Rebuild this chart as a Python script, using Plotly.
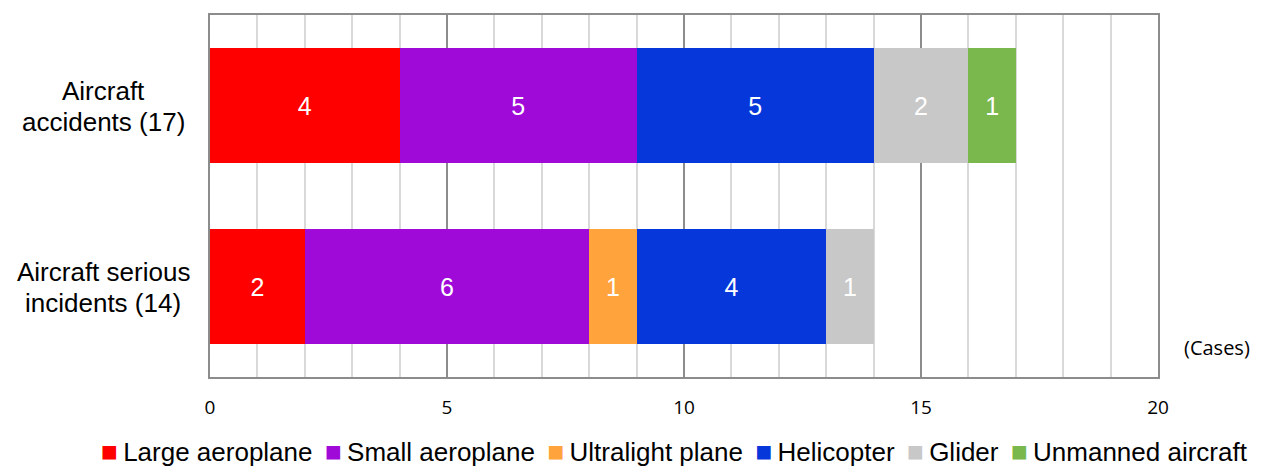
import plotly.graph_objects as go

# Categories (top to bottom) and their totals
categories = ["Aircraft accidents", "Aircraft serious incidents"]
totals = [17, 14]

# Aircraft types, their colours and case counts per category
series_names = ["Large aeroplane", "Small aeroplane", "Ultralight plane",
                "Helicopter", "Glider", "Unmanned aircraft"]
series_colors = ["#FF0000", "#A00AD8", "#FFA33D", "#0537DA", "#C8C8C8", "#7AB84E"]
large_aeroplane = [4, 2]
small_aeroplane = [5, 6]
ultralight_plane = [0, 1]
helicopter = [5, 4]
glider = [2, 1]
unmanned_aircraft = [1, 0]
series_values = [large_aeroplane, small_aeroplane, ultralight_plane,
                 helicopter, glider, unmanned_aircraft]

x_tick_values = [0, 5, 10, 15, 20]
category_lines = [["Aircraft", "accidents ({})".format(totals[0])],
                  ["Aircraft serious", "incidents ({})".format(totals[1])]]

LABEL_FONT = "Liberation Sans, Arial, sans-serif"
AXIS_FONT = "Open Sans, Carlito, sans-serif"

fig = go.Figure()
for name, color, vals in zip(series_names, series_colors, series_values):
    fig.add_trace(go.Bar(
        y=categories, x=vals, name=name, orientation="h",
        marker=dict(color=color, line=dict(width=0)),
        text=[str(v) if v else "" for v in vals],
        textposition="inside", insidetextanchor="middle",
        textfont=dict(family=LABEL_FONT, size=25, color="white"),
        showlegend=False, hoverinfo="x+name",
    ))

fig.update_layout(
    barmode="stack", bargap=0.36,
    width=1263, height=467,
    margin=dict(l=210, r=105, t=15, b=90),
    plot_bgcolor="white", paper_bgcolor="white",
    uniformtext=dict(mode="show", minsize=10),
)

fig.update_xaxes(
    range=[0, 20], tickvals=x_tick_values, showgrid=True,
    gridcolor="#8C8C8C", gridwidth=1.5,
    minor=dict(dtick=1, showgrid=True, gridcolor="#D9D9D9", gridwidth=1.5),
    showline=True, linecolor="#8C8C8C", linewidth=2, mirror=True,
    zeroline=False, ticks="",
    tickfont=dict(family=AXIS_FONT, size=19, color="black"),
    ticklabelstandoff=12,
)
fig.update_yaxes(
    categoryorder="array", categoryarray=categories[::-1],
    showticklabels=False, showgrid=False, zeroline=False,
    showline=True, linecolor="#8C8C8C", linewidth=2, mirror=True,
)

# Category labels: two centred lines to the left of each bar
LABEL_CENTRE_X = -107  # pixels left of the plot's left edge
for cat, lines in zip(categories, category_lines):
    for line, dy in zip(lines, [15, -16]):
        fig.add_annotation(
            x=0, xref="paper", y=cat, yref="y", xanchor="center",
            xshift=LABEL_CENTRE_X, yshift=dy,
            text=line, showarrow=False,
            font=dict(family=LABEL_FONT, size=26, color="black"),
        )

# Unit label
fig.add_annotation(
    x=1, xref="paper", y=0, yref="paper", xanchor="left", yanchor="bottom",
    xshift=24, yshift=14, text="(Cases)", showarrow=False,
    font=dict(family=AXIS_FONT, size=20, color="black"),
)

# Legend row: coloured squares followed by series names
legend_text = " \u2009".join(
    '<span style="color:{};font-size:28px">■</span>\u2009{}'.format(c, n)
    for n, c in zip(series_names, series_colors)
)
fig.add_annotation(
    x=0, xref="paper", y=0, yref="paper", yanchor="middle", yshift=-74,
    xanchor="left", xshift=-111, text=legend_text, showarrow=False,
    font=dict(family=LABEL_FONT, size=26, color="black"),
)

fig.write_html("out.html")
